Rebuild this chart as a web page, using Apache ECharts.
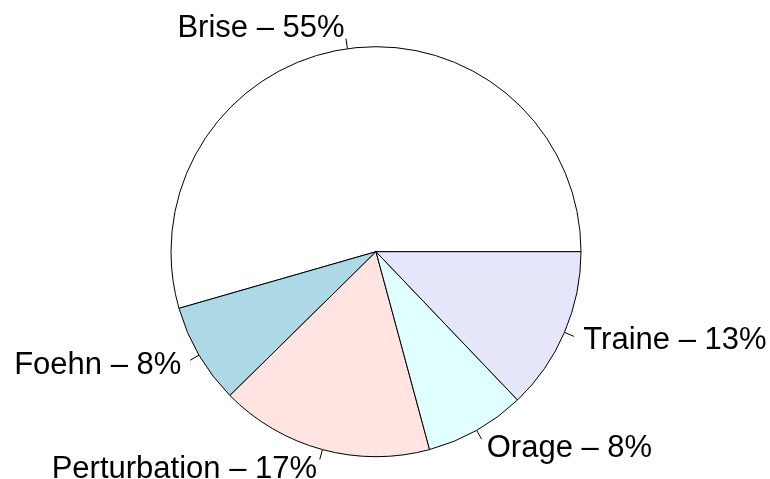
<!DOCTYPE html>
<html>
<head>
<meta charset="utf-8">
<script src="https://cdn.jsdelivr.net/npm/echarts@6/dist/echarts.min.js"></script>
<style>
  html, body { margin: 0; padding: 0; background: #ffffff; }
  #chart { width: 770px; height: 479px; }
</style>
</head>
<body>
<div id="chart"></div>
<script>
// Weather type shares (percent), drawn counter-clockwise from 3 o'clock
const categories = ['Brise', 'Foehn', 'Perturbation', 'Orage', 'Traine'];
const shares = [55, 8, 17, 8, 13];
const sliceColors = ['#FFFFFF', '#ADD8E6', '#FFE4E1', '#E0FFFF', '#E6E6FA'];

const R = 205;

const base = {
  type: 'pie',
  center: [376, 251.7],
  radius: [0, R],
  startAngle: 0,
  clockwise: false,
  avoidLabelOverlap: false,
  silent: true,
  animation: false
};

const chart = echarts.init(document.getElementById('chart'), null, { renderer: 'canvas' });
chart.setOption({
  backgroundColor: '#ffffff',
  series: [
    {
      // slices, with short tick marks from the rim out to 1.05 radius
      ...base,
      data: categories.map((name, i) => ({
        name: name,
        value: shares[i],
        itemStyle: { color: sliceColors[i] }
      })),
      itemStyle: { borderColor: '#000000', borderWidth: 1 },
      label: {
        show: true,
        position: 'outside',
        formatter: ' ',
        fontSize: 1,
        distanceToLabelLine: 0
      },
      labelLine: {
        show: true,
        length: R * 0.05,
        length2: 0,
        lineStyle: { color: '#000000', width: 1 }
      }
    },
    {
      // text labels at 1.1 radius
      ...base,
      data: categories.map((name, i) => ({ name: name, value: shares[i] })),
      itemStyle: { color: 'rgba(255,255,255,0)', borderWidth: 0 },
      label: {
        show: true,
        position: 'outside',
        formatter: p => p.name + ' \u2013 ' + p.value + '%',
        fontFamily: 'Liberation Sans, Arial, sans-serif',
        fontSize: 31,
        color: '#000000',
        distanceToLabelLine: 0,
        bleedMargin: 0,
        overflow: 'none'
      },
      labelLine: { show: false, length: R * 0.1, length2: 0 }
    }
  ]
});
</script>
</body>
</html>
